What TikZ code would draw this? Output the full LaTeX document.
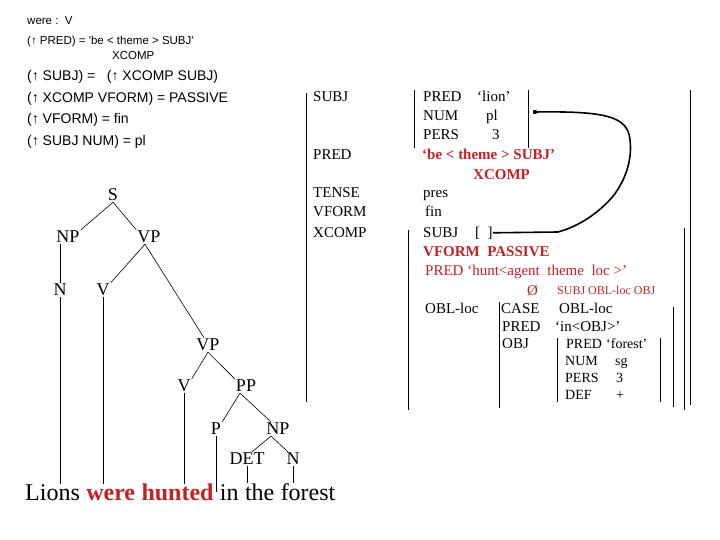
\documentclass[tikz,border=0pt]{standalone}
\usepackage{fontspec}
\setmainfont{Liberation Serif}
\newfontfamily\arialfont{Liberation Sans}
\usepackage{tikz}
\usetikzlibrary{positioning}
\definecolor{lfgred}{RGB}{196,32,38}
\tikzset{
    cat/.style={
           font=\fontsize{18}{18}\selectfont,
           inner sep=1pt,
           },
    attr/.style={
           font=\fontsize{15}{15}\selectfont,
           anchor=base west,
           yshift=-5pt,
           inner sep=0pt,
           },
    attrsm/.style={
           font=\fontsize{14}{14}\selectfont,
           anchor=base west,
           yshift=-5pt,
           inner sep=0pt,
           },
    lexent/.style={
           font=\arialfont\fontsize{11.5}{12}\selectfont,
           anchor=base west,
           yshift=-4pt,
           inner sep=0pt,
           },
    annot/.style={
           font=\arialfont\fontsize{14}{14}\selectfont,
           anchor=base west,
           yshift=-5pt,
           inner sep=0pt,
           },
    word/.style={
           font=\fontsize{24}{24}\selectfont,
           inner sep=0pt,
           },
    bar/.style={line width=0.8pt},
    branch/.style={line width=0.6pt},
}

\begin{document}
\begin{tikzpicture}[x=1pt,y=-1pt]
 \useasboundingbox (0,0) rectangle (720,540);

 % lexical entry and annotations (top left)
 \node[lexent] (lexWere) at (27,21) {were :\ \ V};
 \node[lexent] (lexPred) at (27,41) {(↑ PRED) = 'be < theme > SUBJ'};
 \node[lexent] (lexXcomp) at (112,56) {XCOMP};
 \node[annot] (eqSubj) at (27,76) {(↑ SUBJ) =\ \ \ (↑ XCOMP SUBJ)};
 \node[annot] (eqXvform) at (27,98) {(↑ XCOMP VFORM) = PASSIVE};
 \node[annot] (eqVform) at (27,119) {(↑ VFORM) = fin};
 \node[annot] (eqNum) at (27,141) {(↑ SUBJ NUM) = pl};

 % c-structure
 \node[cat] (tS) at (113,195) {S};
 \node[cat] (tNP) at (68,237) {NP};
 \node[cat] (tVP) at (149,237) {VP};
 \node[cat] (tN) at (60,290) {N};
 \node[cat] (tV) at (103,290) {V};
 \node[cat] (tVPb) at (208,345) {VP};
 \node[cat] (tVb) at (184,386) {V};
 \node[cat] (tPP) at (246,386) {PP};
 \node[cat] (tP) at (216,429) {P};
 \node[cat] (tNPb) at (278,429) {NP};
 \node[cat] (tDET) at (247,459) {DET};
 \node[cat] (tNb) at (293,459) {N};

 % the sentence
 \node[word,anchor=base west] (wLions) at (25,500) {Lions};
 \node[word,base right=6pt of wLions,text=lfgred,font=\fontsize{24}{24}\selectfont\bfseries] (wWere) {were};
 \node[word,base right=6pt of wWere,text=lfgred,font=\fontsize{24}{24}\selectfont\bfseries] (wHunted) {hunted};
 \node[word,base right=6pt of wHunted] (wIn) {in};
 \node[word,base right=6pt of wIn] (wThe) {the};
 \node[word,base right=6pt of wThe] (wForest) {forest};

 % tree branches
 \draw[branch] (tS.south) -- (tNP.north east);
 \draw[branch] (tS.south) -- (tVP.north west);
 \draw[branch] (tN.north) -- (tN.north |- tNP.south);
 \draw[branch] ([xshift=-4pt]tVP.south) -- (tV.north east);
 \draw[branch] ([xshift=-4pt]tVP.south) -- ([xshift=-4pt]tVPb.north);
 \draw[branch] (tVPb.south) -- (tVb.north east);
 \draw[branch] (tVPb.south) -- (tPP.north west);
 \draw[branch] ([xshift=-6pt]tPP.south) -- (tP.north east);
 \draw[branch] ([xshift=-6pt]tPP.south) -- ([xshift=-7pt]tNPb.north);
 \draw[branch] ([xshift=-7pt]tNPb.south) -- ([xshift=5pt]tDET.north);
 \draw[branch] ([xshift=-7pt]tNPb.south) -- ([xshift=-5pt]tNb.north);
 % down to the words
 \draw[branch] (tN.south) -- (tN.south |- wLions.north);
 \draw[branch] (tV.south) -- (tV.south |- wLions.north);
 \draw[branch] (tVb.south) -- (tVb.south |- wLions.north);
 \draw[branch] (tP.south) -- (tP.south |- wIn.center);
 \draw[branch] (tDET.south) -- (tDET.south |- wThe.north);
 \draw[branch] (tNb.south) -- (tNb.south |- wThe.north);

 % f-structure brackets
 \draw[bar] (306,93) -- (306,402);
 \draw[bar] (690,90) -- (690,405);
 \draw[bar] (414,90) -- (414,148);
 \draw[bar] (528,90) -- (528,148);
 \draw[bar] (408,230) -- (408,410);
 \draw[bar] (684,228) -- (684,410);
 \draw[bar] (499,302) -- (499,408);
 \draw[bar] (673,307) -- (673,407);
 \draw[bar] (557,338) -- (557,402);
 \draw[bar] (660,338) -- (660,402);

 % outer f-structure
 \node[attr] (fSubj) at (313,97) {SUBJ};
 \node[attr] (fPred) at (313,155) {PRED};
 \node[attr] (fTense) at (313,193) {TENSE};
 \node[attr] (fVform) at (313,212) {VFORM};
 \node[attr] (fXcomp) at (313,232) {XCOMP};

 % SUBJ value
 \node[attr] (sPred) at (423,97) {PRED};
 \node[attr] (sNum) at (423,116) {NUM};
 \node[attr] (sPers) at (423,135) {PERS};
 \node[attr] (sPredVal) at (477,97) {‘lion’};
 \node[attr] (sNumVal) at (486,116) {pl};
 \node[attr] (sPersVal) at (492,135) {3};

 % PRED, TENSE, VFORM values
 \node[attr,text=lfgred,font=\fontsize{15}{15}\selectfont\bfseries] (fPredVal) at (422,155) {‘be < theme > SUBJ’};
 \node[attr,text=lfgred,font=\fontsize{15}{15}\selectfont\bfseries] (fPredXc) at (473,175) {XCOMP};
 \node[attr] (fTenseVal) at (423,193) {pres};
 \node[attr] (fVformVal) at (425,212) {fin};

 % XCOMP value
 \node[attr] (xSubj) at (423,232) {SUBJ};
 \node[attr] (xSubjVal) at (475,232) {[\ \ ]};
 \node[attr,text=lfgred,font=\fontsize{15}{15}\selectfont\bfseries] (xVform) at (423,251) {VFORM\ \ PASSIVE};
 \node[attr,text=lfgred] (xPred) at (425,270) {PRED ‘hunt<agent\ \ theme\ \ loc >’};
 \node[attr,text=lfgred] (xEmpty) at (527,290) {Ø};
 \node[attr,text=lfgred,font=\fontsize{12}{12}\selectfont,yshift=1pt] (xArgs) at (557,290) {SUBJ OBL-loc OBJ};
 \node[attr] (xObl) at (425,308) {OBL-loc};

 % OBL-loc value
 \node[attr] (oCase) at (501,308) {CASE};
 \node[attr] (oCaseVal) at (559,308) {OBL-loc};
 \node[attr] (oPred) at (502,326) {PRED};
 \node[attr] (oPredVal) at (555,326) {‘in<OBJ>’};
 \node[attr] (oObj) at (502,343) {OBJ};

 % OBJ value
 \node[attrsm] (jPred) at (566,343) {PRED};
 \node[attrsm] (jPredVal) at (606,343) {‘forest’};
 \node[attrsm] (jNum) at (565,360) {NUM};
 \node[attrsm] (jNumVal) at (615,360) {sg};
 \node[attrsm] (jPers) at (565,377) {PERS};
 \node[attrsm] (jPersVal) at (616,377) {3};
 \node[attrsm] (jDef) at (565,394) {DEF};
 \node[attrsm] (jDefVal) at (616,394) {+};

 % structure sharing line
 \coordinate (subjTie) at (535,112);
 \draw[line width=1.6pt] (xSubjVal.east) -- (558,232)
   .. controls (580,226) and (600,212) .. (614,195)
   .. controls (628,176) and (632,156) .. (630,140)
   .. controls (628,116) and (605,111) .. (subjTie);
 \fill (subjTie) circle (2.2);

\end{tikzpicture}
\end{document}
